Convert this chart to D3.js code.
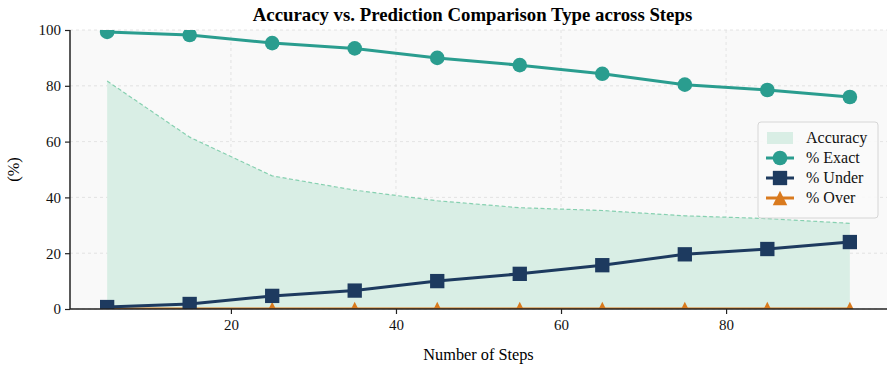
<!DOCTYPE html>
<html>
<head>
<meta charset="utf-8">
<script src="https://cdn.jsdelivr.net/npm/d3@7"></script>
<style>
  body { margin: 0; background: #fff; }
  svg, svg text { font-family: "Liberation Serif", "DejaVu Serif", serif; }
</style>
</head>
<body>
<svg id="chart" width="894" height="371"></svg>
<script>
// chart data
var steps = [5, 15, 25, 35, 45, 55, 65, 75, 85, 95];
var accuracy = [81.7, 61.6, 47.7, 42.6, 38.8, 36.3, 35.3, 33.4, 32.4, 30.7];
var pctExact = [99.3, 98.2, 95.3, 93.4, 90.0, 87.4, 84.3, 80.4, 78.5, 76.0];
var pctUnder = [0.7, 1.8, 4.7, 6.6, 10.0, 12.6, 15.7, 19.6, 21.5, 24.0];
var pctOver = [0, 0, 0, 0, 0, 0, 0, 0, 0, 0];
var yTicks = [0, 20, 40, 60, 80, 100];
var xTicks = [20, 40, 60, 80];

var margin = {left: 70, right: 7, top: 30, bottom: 62};
var W = 894, H = 371;
var svg = d3.select('#chart');

var x = d3.scaleLinear().domain([0.5, 99.5]).range([margin.left, W - margin.right]);
var y = d3.scaleLinear().domain([0, 100]).range([H - margin.bottom, margin.top]);

// matplotlib style '^' marker
var triangleUp = {
    draw: function(ctx, size) {
        var r = Math.sqrt(size) / 2;
        ctx.moveTo(0, -r);
        ctx.lineTo(r, r);
        ctx.lineTo(-r, r);
        ctx.closePath();
    }
};

// plot background
svg.append('rect')
    .attr('x', margin.left).attr('y', margin.top)
    .attr('width', W - margin.left - margin.right)
    .attr('height', H - margin.top - margin.bottom)
    .style('fill', '#f9f9f9');

svg.append('clipPath').attr('id', 'clip')
    .append('rect')
    .attr('x', margin.left).attr('y', margin.top)
    .attr('width', W - margin.left - margin.right)
    .attr('height', H - margin.top - margin.bottom);

// grid
svg.append('g').selectAll('line').data(yTicks).enter().append('line')
    .attr('x1', margin.left).attr('x2', W - margin.right)
    .attr('y1', function(d){ return y(d); }).attr('y2', function(d){ return y(d); })
    .style('stroke', '#dddddd').style('stroke-width', 0.8).style('stroke-dasharray', '3,3');
svg.append('g').selectAll('line').data(xTicks).enter().append('line')
    .attr('y1', margin.top).attr('y2', H - margin.bottom)
    .attr('x1', function(d){ return x(d); }).attr('x2', function(d){ return x(d); })
    .style('stroke', '#dddddd').style('stroke-width', 0.8).style('stroke-dasharray', '3,3');

var plot = svg.append('g').attr('clip-path', 'url(#clip)');

var accData = steps.map(function(s, i){ return [s, accuracy[i]]; });

// accuracy area + dashed outline
plot.append('path')
    .datum(accData)
    .attr('d', d3.area().x(function(d){ return x(d[0]); }).y0(y(0)).y1(function(d){ return y(d[1]); }))
    .style('fill', '#d9eee5');
plot.append('path')
    .datum(accData)
    .attr('d', d3.line().x(function(d){ return x(d[0]); }).y(function(d){ return y(d[1]); }))
    .style('fill', 'none').style('stroke', '#86d0b0').style('stroke-width', 1.2)
    .style('stroke-dasharray', '4,2.5');

var series = [
    {name: '% Exact', values: pctExact, color: '#2a9d8f', shape: d3.symbolCircle, size: 168},
    {name: '% Under', values: pctUnder, color: '#1d3a5f', shape: d3.symbolSquare, size: 205},
    {name: '% Over', values: pctOver, color: '#d97a1e', shape: triangleUp, size: 210}
];

// draw order: over first, then under, exact
[series[2], series[1], series[0]].forEach(function(s){
    var pts = steps.map(function(st, i){ return [st, s.values[i]]; });
    plot.append('path')
        .datum(pts)
        .attr('d', d3.line().x(function(d){ return x(d[0]); }).y(function(d){ return y(d[1]); }))
        .style('fill', 'none').style('stroke', s.color).style('stroke-width', 3);
    plot.selectAll(null).data(pts).enter().append('path')
        .attr('d', d3.symbol().type(s.shape).size(s.size))
        .attr('transform', function(d){ return 'translate(' + x(d[0]) + ',' + y(d[1]) + ')'; })
        .style('fill', s.color);
});

// axes
var yAxis = svg.append('g')
    .attr('transform', 'translate(' + margin.left + ',0)')
    .call(d3.axisLeft(y).tickValues(yTicks).tickSize(5).tickPadding(4));
var xAxis = svg.append('g')
    .attr('transform', 'translate(0,' + (H - margin.bottom) + ')')
    .call(d3.axisBottom(x).tickValues(xTicks).tickSize(5).tickPadding(5));
[xAxis, yAxis].forEach(function(a){
    a.attr('font-family', '"Liberation Serif", serif').attr('font-size', 15);
    a.select('.domain').style('stroke', '#222').style('stroke-width', 1.5);
    a.selectAll('.tick line').style('stroke', '#222').style('stroke-width', 1.2);
    a.selectAll('.tick text').style('fill', '#111');
});
xAxis.select('.domain').attr('d', 'M' + margin.left + ',0H' + (W - margin.right));
yAxis.select('.domain').attr('d', 'M0,' + margin.top + 'V' + (H - margin.bottom));

// titles
svg.append('text')
    .attr('x', (margin.left + W - margin.right) / 2 - 6).attr('y', 21)
    .attr('text-anchor', 'middle')
    .style('font-size', '18.8px').style('font-weight', 'bold')
    .text('Accuracy vs. Prediction Comparison Type across Steps');
svg.append('text')
    .attr('x', (margin.left + W - margin.right) / 2).attr('y', 360)
    .attr('text-anchor', 'middle')
    .style('font-size', '16.3px')
    .text('Number of Steps');
svg.append('text')
    .attr('transform', 'translate(19,' + ((margin.top + H - margin.bottom) / 2) + ') rotate(-90)')
    .attr('text-anchor', 'middle')
    .style('font-size', '16.3px')
    .text('(%)');

// legend
var lg = svg.append('g').attr('transform', 'translate(758,122)');
lg.append('rect')
    .attr('width', 120).attr('height', 96).attr('rx', 3)
    .style('fill', '#fafafa').style('fill-opacity', 0.9)
    .style('stroke', '#d6d6d6').style('stroke-width', 1);
var items = [{name: 'Accuracy', area: true}].concat(series);
items.forEach(function(it, i){
    var row = lg.append('g').attr('transform', 'translate(0,' + (16 + i * 20) + ')');
    if (it.area) {
        row.append('rect').attr('x', 9).attr('y', -6).attr('width', 26).attr('height', 12)
            .style('fill', '#d9eee5');
    } else {
        row.append('line').attr('x1', 8).attr('x2', 36).attr('y1', 0).attr('y2', 0)
            .style('stroke', it.color).style('stroke-width', 3);
        row.append('path')
            .attr('d', d3.symbol().type(it.shape).size(it.size))
            .attr('transform', 'translate(22,0)')
            .style('fill', it.color);
    }
    row.append('text').attr('x', 48).attr('y', 5)
        .style('font-size', '16px').style('fill', '#111')
        .text(it.name);
});
</script>
</body>
</html>
